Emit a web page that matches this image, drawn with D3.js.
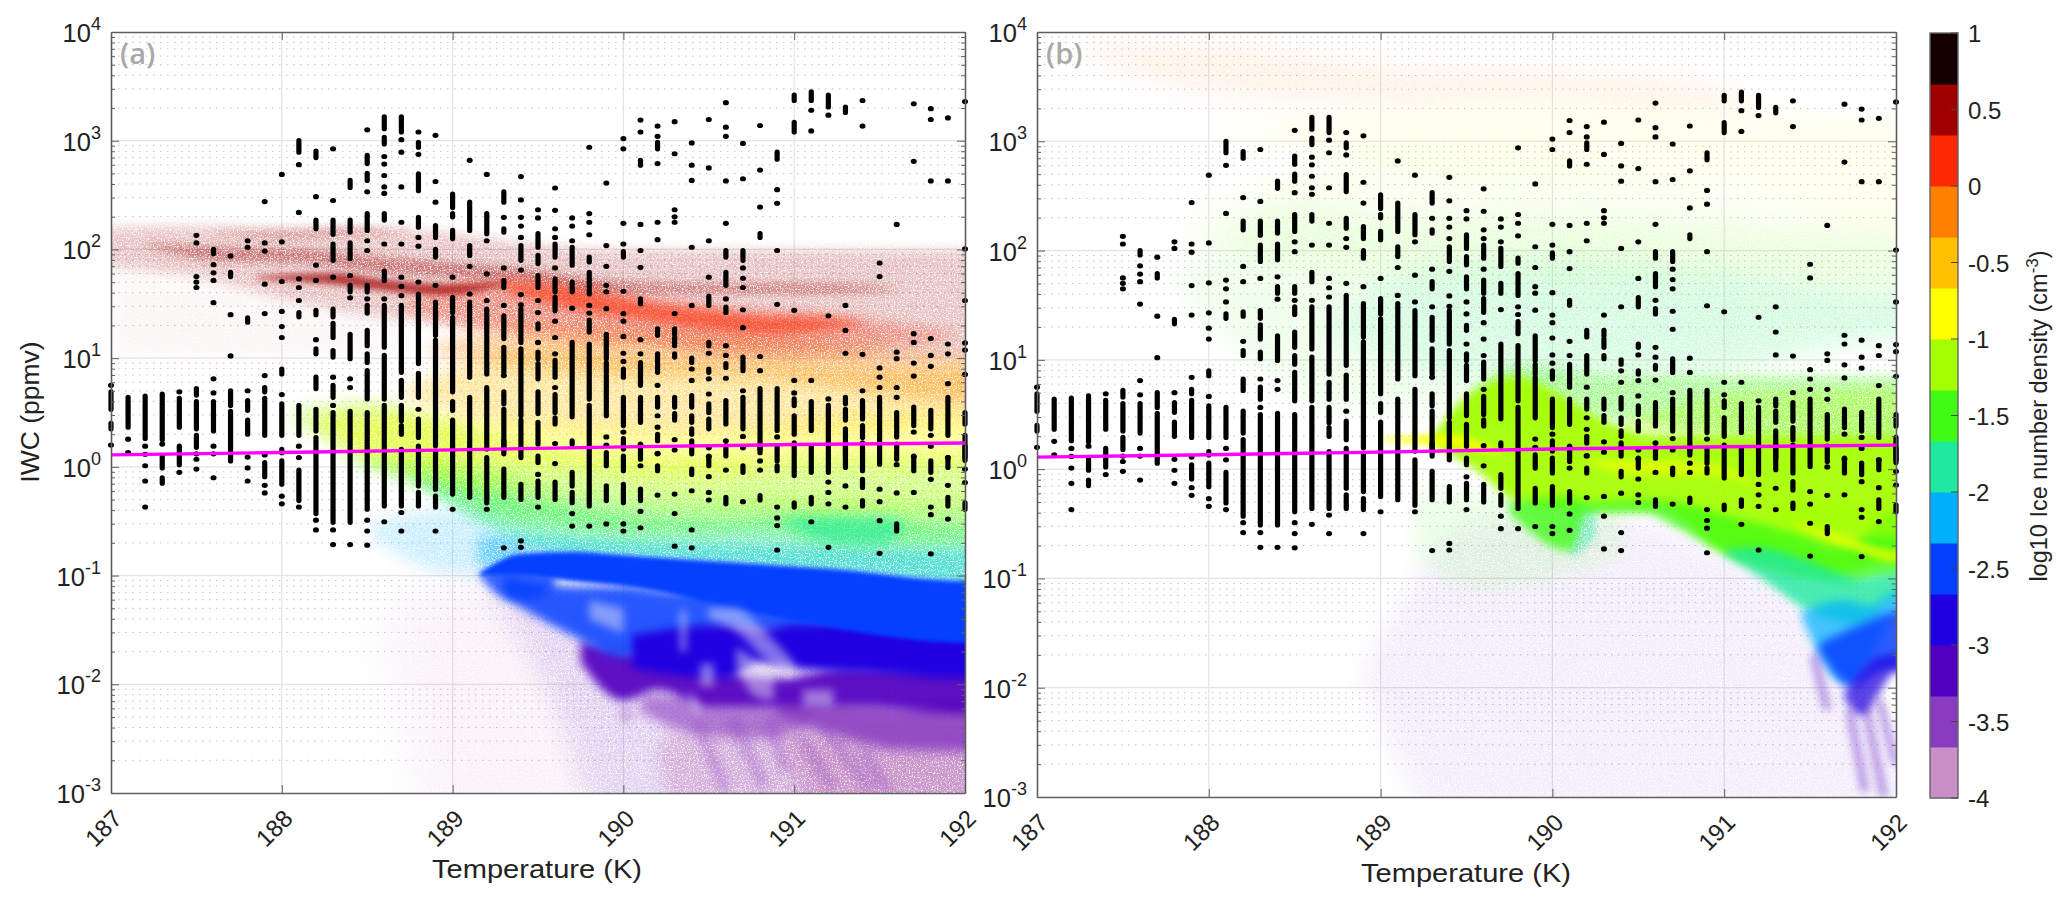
<!DOCTYPE html>
<html><head><meta charset="utf-8">
<script src="https://cdn.jsdelivr.net/npm/d3@7/dist/d3.min.js"></script>
<style>
html,body{margin:0;padding:0;background:#fff;overflow:hidden}
text{font-family:"Liberation Sans",Arial,sans-serif;fill:#222}
</style></head><body><svg id="c" width="2067" height="907"></svg>
<script>
// ---------- axis content ----------
const xTicks=[187,188,189,190,191,192];
const yDecades=[-3,-2,-1,0,1,2,3,4];
const cbTicks=[1,0.5,0,-0.5,-1,-1.5,-2,-2.5,-3,-3.5,-4];
const cbColors=["#c890c6","#8a3cc0","#5200c0","#2000e0","#0540ff","#00b0ff","#1fe8a0","#40fb14","#a4ff00","#ffff00","#ffc000","#ff7f00","#ff2800","#a00000","#140000"];
const ylabel="IWC (ppmv)", xlabel="Temperature (K)", cbLabel="log10 Ice number density (cm";
// ---------- black observation dots: one list per temperature column, log10 IWC ---------
// a number is one dot, a pair is a run of touching dots
const columnTemps=[187,187.1,187.2,187.3,187.4,187.5,187.6,187.7,187.8,187.9,188,188.1,188.2,188.3,188.4,188.5,188.6,188.7,188.8,188.9,189,189.1,189.2,189.3,189.4,189.5,189.6,189.7,189.8,189.9,190,190.1,190.2,190.3,190.4,190.5,190.6,190.7,190.8,190.9,191,191.1,191.2,191.3,191.4,191.5,191.6,191.7,191.8,191.9,192];
const columnIwc=[
[.75,[.53,.69],[.35,.40],.20],
[[.365,.64],.255,.13],
[[.26,.65],.19,.116,.01,-.13,-.37],
[[.25,.67],.21,[-.01,.10],[-.15,-.10]],
[.69,[.365,.63],[.02,.19],-.05],
[2.13,2.06,1.75,1.70,1.65,[.66,.72],[.35,.6],[.18,.29],.12,.07,-.02],
[[1.96,2.0],1.86,1.785,1.715,1.51,.81,.68,[.33,.6],.19,.12,-.10],
[1.94,[1.75,1.79],1.40,1.02,[.565,.70],[.055,.51]],
[2.08,2.02,[1.33,1.37],.70,[.52,.61],[.30,.43],.09,-.01,-.13],
[2.44,2.06,1.985,1.68,1.41,.84,[.69,.73],[.29,.63],.11,[-.09,.04],-.17,-.24],
[2.69,2.07,1.705,1.43,1.29,1.19,[.855,.90],.665,[.29,.58],[.13,.16],[-.16,.055],-.27,-.34],
[[2.895,3.0],2.78,2.34,1.73,1.65,1.53,[1.38,1.42],[.29,.565],.19,.085,[-.31,-.03],-.37],
[[2.845,2.905],2.485,[2.19,2.27],1.855,1.715,[1.40,1.44],1.17,[1.04,1.085],[.72,.825],[.33,.53],[-.43,.27],-.49,-.58],
[2.925,2.45,[2.14,2.27],[1.90,2.05],1.745,[1.38,1.45],[1.19,1.32],[1.01,1.07],.825,[.64,.75],.565,[-.51,.50],-.58,-.715],
[[2.57,2.635],[2.16,2.27],[1.915,2.06],1.76,[1.61,1.67],1.555,[.995,1.22],.81,.73,[-.51,.51],-.715],
[3.10,[2.79,2.865],[2.635,2.70],2.53,[2.175,2.33],2.08,1.99,[1.61,1.67],1.545,[1.415,1.485],[1.115,1.255],[.96,1.04],[.625,.885],[-.39,.50],-.49,-.59,-.72],
[[3.11,3.22],[2.97,3.03],2.855,2.785,2.68,2.575,2.515,[2.27,2.33],2.05,[1.715,1.80],1.545,[1.10,1.485],[.625,1.025],[-.36,.565],-.505],
[[3.08,3.22],3.01,2.895,2.575,2.25,2.05,1.745,1.66,1.575,[.87,1.485],[.64,.795],[.425,.565],[.30,.38],[-.36,.16],-.42,-.59],
[3.08,[2.94,2.985],2.875,[2.54,2.695],[2.205,2.295],2.11,2.03,1.70,[.95,1.59],[.64,.86],.53,[.27,.44],[-.175,.19],[-.36,-.235]],
[3.05,2.625,2.435,[2.11,2.22],[1.93,2.0],1.67,[1.21,1.515],[.81,1.165],[.195,.795],[-.205,.145],[-.37,-.27],-.59],
[[2.385,2.51],[2.30,2.33],[2.10,2.175],1.745,[1.42,1.56],[.69,1.375],[.52,.60],[-.25,.43],-.39],
[2.82,[2.175,2.435],[1.945,2.035],1.845,1.59,[.825,1.515],[-.28,.64]],
[2.69,[2.145,2.33],2.08,1.775,1.53,[.855,1.45],[.165,.73],[-.33,.085],-.39],
[[2.435,2.53],2.295,[2.16,2.19],1.83,[1.65,1.715],1.485,[1.18,1.39],[.87,1.10],.84,[.58,.69],[.165,.53],[.12,.24],[-.28,-.02],-.745],
[2.67,2.455,2.295,2.215,2.11,[1.90,2.035],1.81,1.585,1.49,[1.145,1.45],[.47,1.085],[.085,.43],[-.30,-.16],-.68,-.74],
[2.365,2.29,[2.02,2.145],[1.87,1.945],[1.65,1.76],1.53,1.42,[1.27,1.315],1.145,[.995,1.055],[.81,.95],[.49,.69],[.21,.41],[.04,.10],-.07,[-.28,-.13],-.37],
[2.565,2.36,2.19,2.11,[1.93,2.05],1.83,[1.61,1.73],[1.435,1.56],1.34,1.19,1.04,[.825,.98],.73,[.50,.665],[.395,.45],.215,.03,[-.30,-.14]],
[2.29,2.215,2.08,[1.855,2.02],[1.61,1.70],1.46,[.46,1.145],[.21,.24],[-.175,-.05],[-.33,-.235],-.43,-.545],
[2.94,2.33,2.25,2.135,[1.885,1.93],[1.59,1.79],1.485,1.415,[1.24,1.35],[.625,1.13],[-.36,.565],-.545],
[2.61,2.035,1.845,1.67,1.61,1.455,[.995,1.22],[.87,.96],[.47,.84],.275,.2,[.01,.13],[-.31,-.175],-.525],
[3.02,2.925,2.24,2.05,[1.93,1.98],1.615,1.41,1.34,1.2,1.045,.97,[.825,.90],[.38,.64],.32,[.165,.26],[-.035,.10],[-.33,-.16],-.525,-.59],
[3.19,3.08,[2.775,2.82],2.23,1.99,1.835,[1.50,1.545],1.17,1.04,[.75,.96],[.41,.64],.2,[.07,.21],.01,[-.31,-.205],-.41,-.56],
[3.135,3.04,[2.925,2.985],2.79,2.25,2.09,[1.21,1.27],[.87,1.04],.75,[.55,.64],.47,.365,[.24,.30],.125,.12,[-.035,.01],-.26],
[3.175,2.88,2.365,2.30,2.25,1.41,[1.22,1.27],[1.115,1.19],[1.01,1.04],[.55,.64],[.43,.49],.25,.155,-.25,-.43,-.73],
[2.98,2.775,2.635,2.02,1.485,[.96,1.0],.90,.795,[.55,.655],[.41,.47],[.30,.35],[.12,.24],[-.07,-.02],-.22,-.58,-.745],
[3.195,2.75,2.08,1.745,[1.485,1.57],[1.115,1.145],1.045,[.87,.90],.81,.67,[.50,.58],[.35,.44],.175,.095,[.01,.10],-.09,-.235,-.305],
[3.35,3.125,3.04,2.63,2.24,[1.93,1.99],[1.67,1.79],1.545,[1.42,1.47],1.115,1.025,[.915,.95],.815,[.395,.61],.24,[.10,.195],-.03,[-.34,-.28]],
[2.975,2.65,[1.90,1.99],1.83,1.735,1.65,1.445,1.28,[.885,1.01],.70,[.35,.64],.28,.175,[-.05,.01],-.32],
[3.14,2.73,2.39,[2.11,2.145],1.015,.885,[.165,.72],[.13,.18],.055,-.03,[-.305,-.265]],
[[2.83,2.895],2.55,2.425,1.99,1.495,[.335,.72],.275,[.055,.18],[-.035,.01],-.37,-.47,-.54,-.765],
[[3.37,3.42],[3.08,3.17],1.44,.795,.68,[.565,.625],[.30,.47],[-.08,.22],[-.37,-.33]],
[[3.37,3.45],3.28,3.09,.795,[.335,.60],[-.05,.19],[-.34,-.28],-.505],
[[3.31,3.42],3.235,1.39,.625,[-.05,.565],-.14,-.235,-.34,-.74],
[[3.26,3.31],1.485,1.255,1.045,[.58,.64],[.43,.53],[.105,.35],[-.005,.22],-.175,-.37],
[3.37,3.135,1.035,.70,[.44,.61],[.27,.38],[-.035,.22],[-.19,-.115],[-.36,-.31]],
[1.875,1.75,.91,.825,.73,[.025,.64],-.205,-.32,-.495,-.795],
[2.23,1.055,.995,.73,.64,[.275,.50],[.07,.21],.02,-.24,[-.59,-.525]],
[3.34,2.81,1.225,1.145,.955,.835,[.38,.55],.32,.095,[-.035,.10],-.235],
[3.295,3.195,2.63,1.18,1.025,.925,[.35,.52],.29,.19,[-.05,.055],-.115,-.37,-.44,-.80],
[3.21,2.63,1.13,1.04,.765,[.29,.64],.085,[-.005,.085],-.17,[-.36,-.28],-.48],
[3.36,2.005,1.53,1.14,1.075,.85,[.395,.50],[.06,.29],[.085,.19],-.02,-.145,[-.39,-.33]]
];
// magenta reference curve, log10 IWC
const frostT=[187,188,189,190,191,192];
const frostIwc=[.11,.132,.156,.184,.205,.22];

// ---------- cloud bands of panel (a): [T, low log10 IWC, high log10 IWC] ----------
const aLavender=[[188.6,-1.6,-1.4],[189,-3,-1.0],[189.6,-3,-1.05],[192,-3,-1.2]];
const aLavender2=[[189.2,-1.15,-1.05],[189.6,-2.2,-1.1],[189.95,-3,-1.2],[190.4,-3,-1.3],[192,-3,-1.5]];
const aPaleBottom=[[190.2,-2.7,-2.55],[190.45,-3,-2.4],[191,-3,-2.35],[192,-3,-2.4]];
const aPaleRight=[[190.95,-2.6,-2.5],[191.3,-3,-2.45],[191.7,-3,-2.55],[192,-3,-2.5]];
const aPurpleLeft=[[190.1,-2.25,-2.1],[190.4,-2.45,-2.1],[190.85,-2.5,-2.1],[191.1,-2.35,-2.15]];
const aPurple=[[190.9,-2.3,-2.15],[191.2,-2.45,-2.15],[191.6,-2.6,-2.2],[192,-2.62,-2.15]];
const aViolet=[[189.75,-1.8,-1.6],[190.0,-2.15,-1.7],[190.2,-2.05,-1.75],[190.5,-2.2,-1.85],[190.9,-2.2,-1.95],[191.3,-2.2,-1.85],[192,-2.27,-1.85]];
const aIndigo=[[190.05,-1.85,-1.55],[190.6,-1.95,-1.45],[190.8,-1.8,-1.5],[191,-1.85,-1.45],[191.5,-1.9,-1.45],[192,-1.95,-1.5]];
const aBlue2=[[189.3,-1.2,-1.0],[189.7,-1.55,-1.1],[190,-1.75,-1.1],[190.3,-1.62,-1.15],[190.6,-1.5,-1.15],[191,-1.55,-1.3],[192,-1.65,-1.4]];
const aCyanFaint=[[188.5,-.62,-.55],[188.9,-.95,-.4],[189.2,-1.0,-.45],[189.4,-.95,-.65]];
const aCyan=[[189.15,-.9,-.65],[189.4,-.95,-.62],[190,-.95,-.68],[191,-1.0,-.72],[192,-1.15,-.76]];
const aBlue=[[189.16,-1.0,-.98],[189.4,-1.0,-.8],[189.7,-1.05,-.78],[190.06,-1.11,-.82],[190.65,-1.3,-.88],[191.23,-1.48,-.94],[192,-1.62,-1.05]];
const aBlueCore=[[189.16,-1.0,-.98],[189.3,-1.2,-.95],[189.45,-1.22,-.95],[189.6,-1.1,-.98]];
const aTeal=[[188.75,-.1,-.05],[189.2,-.55,-.2],[189.6,-.78,-.35],[190,-.82,-.45],[190.6,-.88,-.5],[191,-.94,-.45],[191.5,-.98,-.5],[192,-1.05,-.55]];
const aGreen=[[188.3,.1,.08],[188.8,-.15,.1],[189.2,-.45,.0],[189.6,-.55,-.2],[190.2,-.62,-.3],[190.8,-.6,-.3],[191.3,-.7,-.3],[192,-.7,-.35]];
const aGreenCore=[[190.95,-.5,-.46],[191.2,-.7,-.45],[191.5,-.72,-.45],[191.65,-.55,-.5]];
const aLime=[[188.05,.45,.5],[188.5,.05,.6],[188.9,-.15,.45],[189.5,-.25,.2],[190.2,-.35,.1],[191,-.4,.1],[192,-.42,.12]];
const aYellow=[[188.2,.4,.45],[188.6,.05,.5],[189.5,0,.42],[190.5,-.1,.35],[191,.0,.42],[192,.0,.5]];
const aAmber=[[188.7,.65,.7],[189.5,.35,1.1],[190.3,.3,1.0],[191,.3,.95],[191.6,.35,.9],[192,.4,.9]];
const aOrange=[[188.85,1.05,1.1],[189.5,.9,1.3],[190.2,.85,1.25],[190.8,.82,1.2],[191.4,.7,1.12],[192,.6,1.05]];
const aPink=[[186.9,1.85,2.2],[187.5,1.75,2.22],[188,1.55,2.2],[188.5,1.4,2.2],[189,1.3,2.15],[189.5,1.25,2.05],[190,1.15,2.0],[190.5,1.05,2.0],[191,1.0,2.0],[191.5,1.0,2.0],[192,1.0,2.0]];
const aFaintRed=[[187,1.0,1.85],[188,1.0,1.6],[188.7,1.1,1.4]];
const aRedBody=[[188.7,1.45,1.5],[189.2,1.25,1.72],[189.7,1.15,1.68],[190.2,1.1,1.55],[190.7,1.05,1.45],[191.2,1.05,1.4],[191.6,1.12,1.32],[191.95,1.2,1.24]];
const aRedCore=[[189.3,1.62,1.72],[189.7,1.46,1.64],[190.1,1.36,1.52],[190.5,1.27,1.44],[190.9,1.22,1.38],[191.1,1.25,1.38],[191.4,1.3,1.33]];
const aDarkLower=[[187.2,2.04,2.06],[187.6,1.9,2.02],[188.1,1.88,2.0],[188.5,1.8,1.94],[189.05,1.74,1.87],[189.45,1.7,1.82],[189.87,1.6,1.72],[190.5,1.6,1.68],[191.2,1.6,1.68],[191.6,1.62,1.64]];
const aDarkUpper=[[187.6,2.15,2.17],[188,2.1,2.17],[188.4,2.13,2.2],[188.75,2.15,2.17]];
const aDarkMain=[[187.85,1.73,1.75],[188.3,1.68,1.78],[188.6,1.62,1.72],[188.95,1.58,1.68],[189.3,1.67,1.7]];
const aHoles=[
 [[190.45,-2.02,-1.81],[190.53,-2.02,-1.81]],
 [[190.66,-1.84,-1.66],[190.78,-2.12,-1.78],[190.88,-2.15,-1.9]],
 [[190.39,-2.2,-2.05],[190.45,-2.3,-2.2]],
 [[190.33,-1.7,-1.32],[190.37,-1.7,-1.32]],
 [[189.8,-1.4,-1.23],[190,-1.53,-1.3]],
 [[191.05,-2.2,-2.05],[191.23,-2.2,-2.05]],
 [[190.5,-1.4,-1.3],[190.65,-1.5,-1.3],[190.85,-1.8,-1.55],[191,-1.95,-1.8]]
];
const aStreakLines=[
 [[190.43,-2.35],[190.6,-2.97]],[[190.63,-2.3],[190.83,-2.95]],[[190.85,-2.3],[190.95,-2.8]],
 [[191.03,-2.45],[191.22,-2.95]],[[191.15,-2.35],[191.45,-2.97]],[[191.4,-2.6],[191.55,-3]],
 [[190,-2.2],[190.03,-2.35]]];

// ---------- cloud bands of panel (b) ----------
const bLavender=[[188.9,-2,-1.8],[189.6,-3,-.45],[190.2,-3,-.4],[191,-3,-.75],[191.5,-3,-1.3],[191.9,-3,-2.2],[192,-3,-2.6]];
const bPaleGreenSpread=[[189.2,-.8,-.2],[189.6,-1.1,-.2],[190,-1.0,-.3],[190.4,-.8,-.3]];
const bTopOrange=[[187.2,3.85,3.9],[188,3.45,3.9],[189,3.35,3.7],[190,3.4,3.65],[190.8,3.3,3.55],[191.2,3.3,3.35]];
const bTopYellow=[[188,3.1,3.15],[189,2.8,3.3],[190,2.7,3.4],[191,2.6,3.3],[192,2.2,3.2]];
const bFaintLime=[[187.8,2.2,2.25],[189,1.7,2.9],[190.5,1.7,2.7],[192,1.7,2.3]];
const bFaintGreen=[[187.8,1.7,1.75],[188.5,.7,2.4],[189,.5,2.3],[190,.7,2.3],[191,.8,2.2],[192,1.2,2.1]];
const bFaintCyan=[[188.7,1.3,1.35],[189.3,.9,1.85],[190,.85,1.9],[191,.95,1.8],[192,1.2,1.6]];
const bGreenMid=[[189.4,.35,.45],[189.8,.4,.95],[190.4,.45,.85],[191,.3,.85],[191.5,.25,.85],[192,.2,.85]];
const bLimeUpper=[[190.4,.25,.45],[190.8,.2,.62],[191.3,.2,.72],[192,.2,.74]];
const bLime=[[189.28,.24,.26],[189.55,.0,.72],[189.8,-.3,.85],[190,-.35,.72],[190.3,-.35,.45],[190.6,-.35,.3],[191,-.75,.3],[191.5,-1.0,.3],[192,-.85,.3]];
const bYellowA=[[189.0,.26,.28],[189.4,.2,.32],[189.7,.14,.16]];
const bYellowB=[[190.2,.07,.09],[190.5,-.05,.08],[190.9,-.05,.05],[191.2,-.16,-.14]];
const bYellowC=[[191.4,-.5,-.48],[191.7,-.7,-.62],[192,-.85,-.74]];
const bGreen=[[189.75,-.4,-.3],[190.1,-.75,-.25],[190.2,-.4,-.3],[190.53,-.4,-.28],[190.72,-.53,-.3],[191,-.77,-.42],[191.35,-.9,-.55],[191.7,-1.05,-.72],[192,-.98,-.4]];
const bGreenTop=[[191.3,-.55,-.32],[191.6,-.55,-.3],[192,-.62,-.38]];
const bSpur=[[190.1,-.8,-.3],[190.17,-.75,-.3],[190.25,-.6,-.35]];
const bTeal=[[191,-.78,-.74],[191.2,-.98,-.72],[191.5,-1.3,-.85],[191.8,-1.42,-1.0],[192,-1.2,-.95]];
const bCyan=[[191.45,-1.35,-1.3],[191.7,-1.95,-1.2],[191.85,-1.7,-1.25],[192,-1.35,-1.12]];
const bBlue=[[191.55,-1.65,-1.6],[191.75,-2.0,-1.45],[191.9,-1.85,-1.35],[192,-1.82,-1.3]];
const bIndigo=[[191.7,-2.1,-2.05],[191.8,-2.25,-1.85],[191.9,-2.05,-1.72],[192,-1.85,-1.7]];
const bStreakLines=[[[191.73,-2.2],[191.82,-2.95]],[[191.82,-2.15],[191.93,-3]],[[191.9,-2.1],[192,-2.7]],[[191.52,-1.7],[191.6,-2.2]]];

// ---------- layout (only here) ----------
const panels=[
 {x0:111,x1:965,y0:793,y1:32,tag:"(a)",xl:537,xb:878,
  layers:[
  [aLavender,-3.83,.12,20,1],[aLavender2,-3.17,.13,12,1],[aPaleBottom,-3.83,.5,8,1],[aPaleRight,-3.83,.8,8,1],
  [aPurpleLeft,-3.5,.6,6,0],[aPurple,-3.5,.88,6,0],[aViolet,-3.17,.92,5,0],[aBlue2,-2.5,.85,5,0],[aIndigo,-2.83,1,4,0],
  [aFaintRed,.5,.04,12,1],[aPink,.5,.24,6,1],[aCyanFaint,-2.17,.22,8,1],[aCyan,-2.17,.5,6,1],[aTeal,-1.83,.5,6,1],[aGreen,-1.5,.5,8,1],[aGreenCore,-1.83,.55,6,0],
  [aLime,-1.17,.5,8,1],[aYellow,-.83,.45,8,1],[aAmber,-.5,.4,8,1],[aOrange,-.17,.42,8,1],
  [aRedBody,.17,.32,6,1],[aDarkLower,.5,.42,4,1],[aDarkUpper,.5,.3,4,1],[aRedCore,.17,.6,6,0],[aDarkMain,.5,.72,3,0],
  [aBlue,-2.5,1,2,0],[aBlueCore,-2.5,.8,4,0]],
  holes:aHoles,holeOpacity:.5,streaks:aStreakLines,streakLevel:-3.5,streakOpacity:.28,streakWidth:12},
 {x0:1037,x1:1896,y0:797,y1:32,tag:"(b)",xl:1466,xb:882,
  layers:[
  [bLavender,-3.17,.07,12,1],[bPaleGreenSpread,-1.5,.12,8,1],[bTopOrange,-.17,.1,12,1],[bTopYellow,-.83,.08,12,1],[bFaintLime,-1.17,.07,12,1],[bFaintGreen,-1.5,.09,12,1],[bFaintCyan,-2,.13,12,1],
  [bGreenMid,-1.5,.42,6,1],[bLimeUpper,-1.17,.4,6,1],[bSpur,-1.83,.5,3,1],[bLime,-1.17,.92,4,0],[bGreen,-1.5,.78,4,0],[bGreenTop,-1.17,.6,4,0],[bYellowA,-.83,.8,3,0],[bYellowB,-.83,.6,4,0],[bYellowC,-.83,.65,3,0],
  [bTeal,-1.83,.8,4,0],[bCyan,-2.17,.72,5,0],[bBlue,-2.5,.85,5,0],[bIndigo,-2.83,.72,4,0]],
  holes:[],holeOpacity:0,streaks:bStreakLines,streakLevel:-3.17,streakOpacity:.45,streakWidth:7}
];
const svg=d3.select("#c");
const cbScale=d3.scaleLinear().domain([-4,1]).range([798,33]);
const colorOf=d3.scaleQuantize().domain([-4,1]).range(cbColors);

const defs=svg.append("defs");
function addFilter(id,blur,grain){
 const f=defs.append("filter").attr("id",id).attr("filterUnits","userSpaceOnUse").attr("x",60).attr("y",0).attr("width",1900).attr("height",830).attr("color-interpolation-filters","sRGB");
 f.append("feGaussianBlur").attr("in","SourceGraphic").attr("stdDeviation",blur).attr("result","b");
 if(grain){
  f.append("feTurbulence").attr("type","fractalNoise").attr("baseFrequency",.75).attr("numOctaves",2).attr("seed",7).attr("result","n");
  f.append("feColorMatrix").attr("in","n").attr("type","matrix").attr("values","0 0 0 0 0 0 0 0 0 0 0 0 0 0 0 0 0 0 3.2 -.75").attr("result","m");
  f.append("feComposite").attr("in","b").attr("in2","m").attr("operator","in");
 }
}
[2,3,4,5,6,8,12,20].forEach(b=>{addFilter("b"+b,b,false);addFilter("g"+b,b,true)});

const minors=[];
yDecades.slice(0,-1).forEach(d=>{for(let m=2;m<10;m++)minors.push(m*Math.pow(10,d))});

// a band that reaches a frame edge is carried past it, so that blurring does not fade it there
function overrun(band){
 const out=band.map(d=>[d[0],d[1]<=-3?-3.6:d[1],d[2]>=4?4.6:d[2]]);
 const last=out[out.length-1];
 if(last[0]>=192) out.push([193,last[1],last[2]]);
 return out;
}

panels.forEach((p,pi)=>{
 const x=d3.scaleLinear().domain([187,192]).range([p.x0,p.x1]);
 const y=d3.scaleLog().domain([1e-3,1e4]).range([p.y0,p.y1]);
 const ly=v=>y(Math.pow(10,v));
 const g=svg.append("g");
 defs.append("clipPath").attr("id","clip"+pi).append("rect").attr("x",p.x0).attr("y",p.y1).attr("width",p.x1-p.x0).attr("height",p.y0-p.y1);
 // grid
 const grid=g.append("g");
 grid.selectAll(".m").data(minors).join("line").attr("x1",p.x0).attr("x2",p.x1).attr("y1",d=>y(d)).attr("y2",d=>y(d)).attr("stroke","#c4c4c4").attr("stroke-width",1).attr("stroke-dasharray","1.5 5.5");
 grid.selectAll(".d").data(yDecades.slice(1,-1)).join("line").attr("x1",p.x0).attr("x2",p.x1).attr("y1",d=>ly(d)).attr("y2",d=>ly(d)).attr("stroke","#e4e4e4").attr("stroke-width",1.2);
 grid.selectAll(".v").data(xTicks.slice(1,-1)).join("line").attr("y1",p.y0).attr("y2",p.y1).attr("x1",d=>x(d)).attr("x2",d=>x(d)).attr("stroke","#e4e4e4").attr("stroke-width",1.2);
 // cloud
 const cloud=g.append("g").attr("clip-path",`url(#clip${pi})`);
 const area=d3.area().x(d=>x(d[0])).y0(d=>ly(d[1])).y1(d=>ly(d[2])).curve(d3.curveMonotoneX);
 p.layers.forEach(l=>{
  cloud.append("path").attr("d",area(overrun(l[0]))).attr("fill",colorOf(l[1])).attr("opacity",l[2])
   .attr("filter",`url(#${l[4]?"g":"b"}${l[3]})`);
 });
 p.holes.forEach(h=>{
  cloud.append("path").attr("d",area(h)).attr("fill","#e4e0f6").attr("opacity",p.holeOpacity).attr("filter","url(#b4)");
 });
 const ln=d3.line().x(d=>x(d[0])).y(d=>ly(d[1]));
 p.streaks.forEach(s=>{
  cloud.append("path").attr("d",ln(s)).attr("fill","none").attr("stroke",colorOf(p.streakLevel)).attr("stroke-width",p.streakWidth).attr("opacity",p.streakOpacity).attr("filter","url(#b4)");
 });
 // black dots
 const dots=g.append("g");
 columnIwc.forEach((col,i)=>{
  const t=columnTemps[i];
  col.forEach(v=>{
   if(Array.isArray(v)) dots.append("line").attr("x1",x(t)).attr("x2",x(t)).attr("y1",ly(v[0])).attr("y2",ly(v[1])).attr("stroke","#000").attr("stroke-width",5.2).attr("stroke-linecap","round");
   else dots.append("ellipse").attr("cx",x(t)).attr("cy",ly(v)).attr("rx",3).attr("ry",2.6).attr("fill","#000");
  });
 });
 // magenta line
 g.append("path").datum(frostT.map((t,i)=>[t,frostIwc[i]])).attr("d",d3.line().x(d=>x(d[0])).y(d=>ly(d[1]))).attr("fill","none").attr("stroke","#ff00ff").attr("stroke-width",3.4);
 // axes
 const axC="#5f5f5f";
 const bottom=g.append("g").attr("transform",`translate(0,${p.y0})`).call(d3.axisBottom(x).tickValues(xTicks).tickSizeInner(-8).tickSizeOuter(0).tickFormat(d3.format("d")));
 const top=g.append("g").attr("transform",`translate(0,${p.y1})`).call(d3.axisTop(x).tickValues(xTicks).tickSizeInner(-8).tickSizeOuter(0).tickFormat(""));
 const yT=yDecades.map(d=>Math.pow(10,d)).concat(minors);
 const left=g.append("g").attr("transform",`translate(${p.x0},0)`).call(d3.axisLeft(y).tickValues(yT).tickSizeInner(-4).tickSizeOuter(0).tickFormat(""));
 const right=g.append("g").attr("transform",`translate(${p.x1},0)`).call(d3.axisRight(y).tickValues(yT).tickSizeInner(-4).tickSizeOuter(0).tickFormat(""));
 [left,right].forEach((a,ai)=>{
  a.selectAll(".tick line").filter(d=>Math.abs(Math.log10(d)-Math.round(Math.log10(d)))<1e-6).attr("x2",ai?-8:8);
 });
 [bottom,top,left,right].forEach(a=>{a.selectAll(".domain").attr("stroke",axC).attr("stroke-width",1.6);a.selectAll(".tick line").attr("stroke",axC).attr("stroke-width",1)});
 bottom.selectAll(".tick text").attr("font-size",24).attr("fill","#222").attr("text-anchor","end").attr("dy",0).attr("y",0)
   .attr("transform","translate(12,27) rotate(-45)");
 // decade labels
 yDecades.forEach(d=>{
  const t=g.append("text").attr("x",p.x0-10).attr("y",ly(d)+10).attr("text-anchor","end").attr("font-size",25.5);
  t.append("tspan").text("10");
  t.append("tspan").attr("font-size",18).attr("dy",-12).text(d);
 });
 g.append("text").attr("x",p.xl).attr("y",p.xb).attr("text-anchor","middle").attr("font-size",26.5).attr("textLength",210).attr("lengthAdjust","spacingAndGlyphs").text(xlabel);
 g.append("text").attr("x",p.x0+9).attr("y",p.y1+32).attr("font-size",29).attr("style",'font-family:"Open Sans";fill:#a9a9a9;font-weight:600').text(p.tag);
});
// y title
svg.append("text").attr("transform","translate(39,412) rotate(-90)").attr("text-anchor","middle").attr("font-size",26.5).text(ylabel);
// colorbar
const cb=svg.append("g");
const step=5/cbColors.length;
cb.selectAll("rect.s").data(cbColors).join("rect").attr("x",1930).attr("width",28).attr("y",(d,i)=>cbScale(-4+(i+1)*step)).attr("height",(d,i)=>cbScale(-4+i*step)-cbScale(-4+(i+1)*step)+.5).attr("fill",d=>d);
cb.append("rect").attr("x",1930).attr("y",cbScale(1)).attr("width",28).attr("height",cbScale(-4)-cbScale(1)).attr("fill","none").attr("stroke","#666").attr("stroke-width",1.4);
cb.selectAll("line").data(cbTicks).join("line").attr("x1",1951).attr("x2",1958).attr("y1",d=>cbScale(d)).attr("y2",d=>cbScale(d)).attr("stroke","#444").attr("stroke-width",1);
cb.selectAll("text").data(cbTicks).join("text").attr("x",1968).attr("y",d=>cbScale(d)+9).attr("font-size",24).text(d=>d);
const cl=svg.append("text").attr("transform","translate(2047,416) rotate(-90)").attr("text-anchor","middle").attr("font-size",23.5);
cl.append("tspan").text(cbLabel);
cl.append("tspan").attr("font-size",17).attr("dy",-9).text("-3");
cl.append("tspan").attr("dy",9).text(")");
</script></body></html>
